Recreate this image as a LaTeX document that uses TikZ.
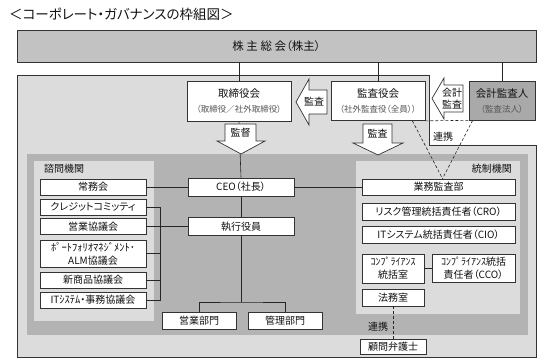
\documentclass[tikz,border=0pt]{standalone}
\usepackage{fontspec}
\setmainfont{Noto Sans CJK JP}[RawFeature=+palt]
\definecolor{lightbg}{HTML}{DCDCDC}
\definecolor{darkbg}{HTML}{B3B3B3}
\definecolor{topbar}{HTML}{C2C2C2}
\definecolor{auditbg}{HTML}{A9A9A9}
\definecolor{edge}{HTML}{333333}
\definecolor{txt}{HTML}{111111}
\definecolor{subtxt}{HTML}{555555}
\begin{document}
\begin{tikzpicture}[x=1pt,y=-1pt,
  box/.style={draw=edge, line width=0.7pt, fill=white, inner sep=0pt, align=center,
    font=\fontsize{10}{12}\selectfont, text=txt},
  lbl/.style={inner sep=0pt, font=\fontsize{10}{12}\selectfont, text=txt},
  conn/.style={draw=black!85, line width=0.6pt},
  linkline/.style={draw=black!85, line width=0.6pt, dash pattern=on 3pt off 2pt},
  blockarrow/.style={draw=edge, fill=white, line width=0.7pt, line join=miter},
]
\useasboundingbox (0,0) rectangle (537,363);

% title
\node[anchor=west, inner sep=0pt, font=\fontsize{13.5}{15}\selectfont, text=txt] (title) at (9,14) {＜コーポレート・ガバナンスの枠組図＞};

% regions
\filldraw[fill=lightbg, draw=edge, line width=0.7pt] (17,75) -- (429,75) -- (429,145) -- (536,145) -- (536,357) -- (17,357) -- cycle;
\fill[darkbg] (27,154) rectangle (528,335);
\fill[lightbg] (34,161) rectangle (154,321);
\fill[lightbg] (356,161) rectangle (520,314);
\node[lbl, anchor=west] (shimon) at (44,169) {諮問機関};
\node[lbl, anchor=east] (tousei) at (512,169) {統制機関};

% top bar
\node[box, fill=topbar, minimum width=519pt, minimum height=32pt, font=\fontsize{11.5}{13}\selectfont] (soukai) at (276.5,46) {株 主 総 会（株主）};

% upper boxes
\node[box, minimum width=104pt, minimum height=40pt, font=\fontsize{10.5}{16}\selectfont] (torishimari) at (239,101)
  {取締役会\\{\fontsize{8.5}{10}\selectfont\color{subtxt}（取締役／社外取締役）}};
\node[box, minimum width=94pt, minimum height=39pt, font=\fontsize{10.5}{16}\selectfont] (kansayaku) at (378,101)
  {監査役会\\{\fontsize{8.5}{10}\selectfont\color{subtxt}（社外監査役（全員））}};
\node[box, fill=auditbg, minimum width=66pt, minimum height=39pt, font=\fontsize{10.5}{15}\selectfont] (kaikei) at (502,100.5)
  {会計監査人\\{\fontsize{8.5}{10}\selectfont\color{subtxt}（監査法人）}};

% connectors to the top bar
\draw[conn] (torishimari.north) -- (torishimari.north |- soukai.south);
\draw[conn] (kansayaku.north) -- (kansayaku.north |- soukai.south);
\draw[conn] (kaikei.north) -- (kaikei.north |- soukai.south);

% middle nodes
\node[box, minimum width=106pt, minimum height=18pt] (ceo) at (241,187) {CEO（社長）};
\node[box, minimum width=106pt, minimum height=18pt] (shikkou) at (241,226.5) {執行役員};
\node[box, minimum width=74pt, minimum height=17pt] (eigyo) at (199,320.5) {営業部門};
\node[box, minimum width=74pt, minimum height=17pt] (kanri) at (285,320.5) {管理部門};
\coordinate (bus) at (241,302);

% left boxes
\node[box, minimum width=106pt, minimum height=16pt] (joumu) at (93,187) {常務会};
\node[box, minimum width=106pt, minimum height=16pt] (credit) at (93,207) {クレジットコミッティ};
\node[box, minimum width=106pt, minimum height=16pt] (eigyokyo) at (93,226.5) {営業協議会};
\node[box, minimum width=106pt, minimum height=27pt, font=\fontsize{10}{13}\selectfont] (portfolio) at (93,253.5)
  {{\fontsize{10.5}{11}\selectfont ﾎﾟｰﾄﾌｫﾘｵﾏﾈｼﾞﾒﾝﾄ･}\\ALM協議会};
\node[box, minimum width=106pt, minimum height=16pt] (shinshohin) at (93,280) {新商品協議会};
\node[box, minimum width=106pt, minimum height=16pt] (itsys) at (93,300) {IT{\fontsize{10.5}{12}\selectfont ｼｽﾃﾑ}・事務協議会};
\coordinate (bx) at (160,0);

% right boxes
\node[box, minimum width=153pt, minimum height=16pt] (gyomu) at (438.5,187) {業務監査部};
\node[box, minimum width=153pt, minimum height=17pt] (cro) at (438.5,211.5) {リスク管理統括責任者（CRO）};
\node[box, minimum width=153pt, minimum height=17pt] (cio) at (438.5,234.5) {ITシステム統括責任者（CIO）};
\node[box, minimum width=62pt, minimum height=29pt, font=\fontsize{10}{13}\selectfont] (compshitsu) at (393,268.5)
  {{\fontsize{10}{11}\selectfont ｺﾝﾌﾟﾗｲｱﾝｽ}\\統括室};
\node[box, minimum width=83pt, minimum height=28pt, font=\fontsize{10}{13}\selectfont] (cco) at (473.5,268.5)
  {{\fontsize{10}{11}\selectfont ｺﾝﾌﾟﾗｲｱﾝｽ}統括\\責任者（CCO）};
\node[box, minimum width=62pt, minimum height=17pt] (houmu) at (393,297.5) {法務室};
\node[box, minimum width=66pt, minimum height=15pt] (komon) at (393,346.5) {顧問弁護士};

% connectors between nodes
\draw[conn] (torishimari.south) -- (ceo.north);
\draw[conn] (ceo.south) -- (shikkou.north);
\draw[conn] (shikkou.south) -- (bus);
\draw[conn] (eigyo.north) |- (bus) -| (kanri.north);
\draw[conn] (joumu.east) -- (ceo.west);
\draw[conn] (ceo.east) -- (gyomu.west);
\draw[conn] (eigyokyo.east) -- (shikkou.west);
\draw[conn] (credit.east) -- (credit.east -| bx) -- (itsys.east -| bx) -- (itsys.east);
\draw[conn] (portfolio.east) -- (portfolio.east -| bx);
\draw[conn] (shinshohin.east) -- (shinshohin.east -| bx);
\draw[conn] (compshitsu.east) -- (cco.west);
\draw[linkline] (houmu.south) -- (komon.north);
\draw[linkline] (kansayaku.south east) -- (kaikei.south west);
\draw[linkline] ([xshift=-13pt]kansayaku.south east) -- ([xshift=4pt]gyomu.north);
\draw[linkline] ([xshift=4pt]kaikei.south west) -- ([xshift=4pt]gyomu.north);
\node[lbl] (renkei1) at (443,137) {連携};
\node[lbl] (renkei2) at (378,327) {連携};

% block arrows
\filldraw[blockarrow] (327,90) -- (309,90) -- (309,79) -- (296,102) -- (309,125) -- (309,114) -- (327,114) -- cycle;
\node[lbl] (kansaA) at (314,102) {監査};
\filldraw[blockarrow] (463,85) -- (444,85) -- (444,78) -- (432,98.5) -- (444,119) -- (444,112) -- (463,112) -- cycle;
\node[lbl, align=center, font=\fontsize{10}{12.5}\selectfont] (kaikeiA) at (452,98.5) {会計\\監査};
\filldraw[blockarrow] (225,124) -- (256,124) -- (256,141) -- (265,141) -- (241,154) -- (217,141) -- (225,141) -- cycle;
\node[lbl] (kantokuA) at (240.5,133) {監督};
\filldraw[blockarrow] (363,124) -- (392,124) -- (392,143) -- (403,143) -- (378,155) -- (353,143) -- (363,143) -- cycle;
\node[lbl] (kansaB) at (377.5,134) {監査};
\end{tikzpicture}
\end{document}
